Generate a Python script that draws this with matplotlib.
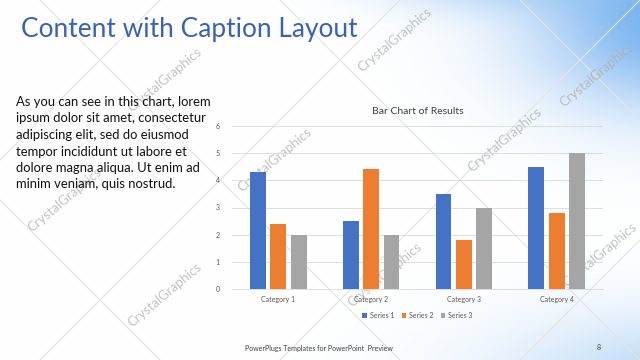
import numpy as np
import matplotlib
matplotlib.use("Agg")
import matplotlib.pyplot as plt

# Data
categories = ["Category 1", "Category 2", "Category 3", "Category 4"]
series_names = ["Series 1", "Series 2", "Series 3"]
series_1 = [4.3, 2.5, 3.5, 4.5]
series_2 = [2.4, 4.4, 1.8, 2.8]
series_3 = [2.0, 2.0, 3.0, 5.0]
y_ticks = [0, 1, 2, 3, 4, 5, 6]

C_S1 = "#4472C4"
C_S2 = "#ED7D31"
C_S3 = "#A5A5A5"
C_TITLE = "#3A62B4"
C_AXTXT = "#595959"

plt.rcParams["font.family"] = ["Lato", "DejaVu Sans"]

fig = plt.figure(figsize=(6.4, 3.6), dpi=100)

# ── slide background: white with soft blue sky on the right ──
bg = fig.add_axes([0, 0, 1, 1])
W, H = 640, 360
xx, yy = np.meshgrid(np.arange(W), np.arange(H))
sky = np.exp(-(((xx - 670) / 140.0) ** 2 + ((yy - 20) / 90.0) ** 2))
sky += 0.5 * np.exp(-(((xx - 700) / 200.0) ** 2 + ((yy - 380) / 70.0) ** 2))
sky += 0.3 * np.exp(-(((xx - 480) / 110.0) ** 2 + ((yy + 10) / 25.0) ** 2))
sky = np.clip(sky, 0, 1)
top = np.array([1.0, 1.0, 1.0])
blue = np.array([0.47, 0.70, 0.94])
img = top[None, None, :] * (1 - sky[..., None]) + blue[None, None, :] * sky[..., None]
bg.imshow(img, extent=(0, W, H, 0), aspect="auto")
bg.set_xlim(0, W)
bg.set_ylim(H, 0)
bg.axis("off")

# faint diagonal lines and watermarks
for x0 in [-200, 40, 280, 520, 760]:
    bg.plot([x0, x0 + 360], [0, 360], color="#e4e4e4", lw=0.8, zorder=1)
    bg.plot([x0 + 360, x0], [0, 360], color="#e4e4e4", lw=0.8, zorder=1)
marks = [(165, 80), (395, 40), (597, 75), (65, 200), (275, 160),
         (505, 140), (165, 295), (385, 275), (600, 255)]
for mx, my in marks:
    bg.text(mx, my, "CrystalGraphics", rotation=40, ha="center", va="center",
            fontsize=9.5, color="#b0b0b0", alpha=0.75, zorder=2)

# slide title and caption text
fig.text(21 / W, 1 - 30 / H, "Content with Caption Layout", fontsize=18.9,
         color=C_TITLE, ha="left", va="center")
body = ("As you can see in this chart, lorem\n"
        "ipsum dolor sit amet, consectetur\n"
        "adipiscing elit, sed do eiusmod\n"
        "tempor incididunt ut labore et\n"
        "dolore magna aliqua. Ut enim ad\n"
        "minim veniam, quis nostrud.")
fig.text(16 / W, 1 - 96 / H, body, fontsize=9.4, color="#111111",
         ha="left", va="top", linespacing=1.45)

fig.text(245 / W, 1 - 348 / H, "PowerPlugs Templates for PowerPoint  Preview",
         fontsize=5, color="#404040", ha="left", va="center")
fig.text(597 / W, 1 - 348 / H, "8", fontsize=5, color="#404040",
         ha="left", va="center")

# ── bar chart ──
ax = fig.add_axes([232 / W, 1 - 289 / H, 371 / W, 163 / H])
ax.patch.set_alpha(0)
x = np.arange(len(categories))
bw = 0.17
off = 0.22
ax.bar(x - off, series_1, bw, color=C_S1, label=series_names[0], zorder=3)
ax.bar(x, series_2, bw, color=C_S2, label=series_names[1], zorder=3)
ax.bar(x + off, series_3, bw, color=C_S3, label=series_names[2], zorder=3)

ax.set_xlim(-0.5, len(categories) - 0.5)
ax.set_ylim(0, 6)
ax.set_yticks(y_ticks)
ax.set_xticks(x)
ax.set_xticklabels(categories)
ax.tick_params(axis="both", length=0, labelsize=5, colors=C_AXTXT)
ax.tick_params(axis="y", pad=9)
ax.tick_params(axis="x", pad=5)
ax.grid(axis="y", color="#d9d9d9", lw=0.6, zorder=0)
for s in ["top", "left", "right"]:
    ax.spines[s].set_visible(False)
ax.spines["bottom"].set_color("#d9d9d9")
ax.spines["bottom"].set_linewidth(0.6)

ax.set_title("Bar Chart of Results", fontsize=7.5, color="#404040", pad=9)
ax.legend(loc="upper center", bbox_to_anchor=(0.5, -0.1), ncol=3,
          frameon=False, fontsize=5, handlelength=0.7, handleheight=0.7,
          handletextpad=0.4, columnspacing=1.0, labelcolor=C_AXTXT)

fig.savefig("out.png", dpi=100)
